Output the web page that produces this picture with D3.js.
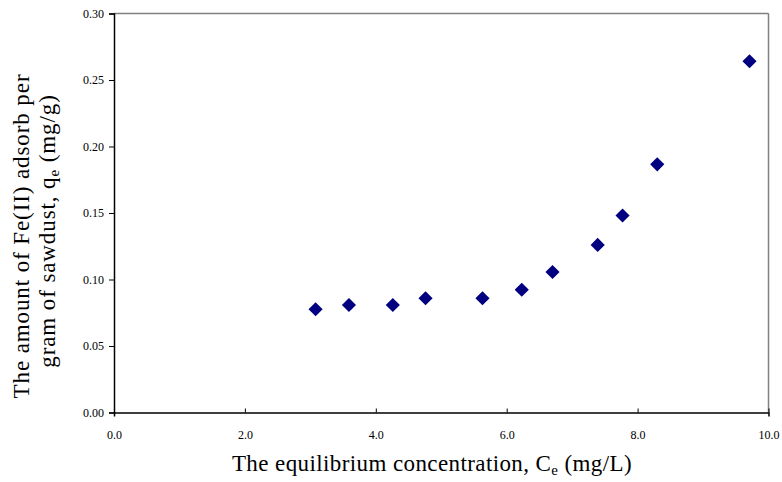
<!DOCTYPE html>
<html><head><meta charset="utf-8">
<script src="https://cdn.jsdelivr.net/npm/d3@7"></script>
<style>body{margin:0;background:#fff}svg{display:block}text{font-family:"Liberation Serif","Times New Roman",serif}</style>
</head><body>
<script>
const ceValues = [3.08, 3.59, 4.26, 4.76, 5.63, 6.23, 6.70, 7.39, 7.77, 8.30, 9.71];
const qeValues = [0.0776, 0.0808, 0.0808, 0.0859, 0.0859, 0.0923, 0.1056, 0.126, 0.1481, 0.1866, 0.2641];
const xTicks = [0, 2, 4, 6, 8, 10];
const yTicks = [0, 0.05, 0.10, 0.15, 0.20, 0.25, 0.30];

const W = 782, H = 482;
const m = {left:114, top:13.5, right:782-768.5, bottom:482-412.5};
const svg = d3.select("body").append("svg").attr("width", W).attr("height", H);
const x = d3.scaleLinear().domain([0,10]).range([m.left, W-m.right]);
const y = d3.scaleLinear().domain([0,0.30]).range([H-m.bottom, m.top]);

svg.append("line").attr("x1",x(0)).attr("x2",x(10)).attr("y1",y(0.30)).attr("y2",y(0.30)).attr("stroke","#808080").attr("stroke-width",1.5);
svg.append("line").attr("x1",x(10)).attr("x2",x(10)).attr("y1",y(0.30)).attr("y2",y(0)).attr("stroke","#808080").attr("stroke-width",1.5);

const xAxis = svg.append("g").attr("transform",`translate(0,${y(0)})`)
  .call(d3.axisBottom(x).tickValues(xTicks).tickFormat(d3.format(".1f")).tickSize(4).tickPadding(14));
const yAxis = svg.append("g").attr("transform",`translate(${x(0)},0)`)
  .call(d3.axisLeft(y).tickValues(yTicks).tickFormat(d3.format(".2f")).tickSize(5).tickPadding(5));
[xAxis,yAxis].forEach(g=>{
  g.select(".domain").attr("stroke","#000").attr("stroke-width",1.5);
  g.selectAll(".tick line").attr("stroke","#000");
  g.selectAll(".tick text").attr("fill","#000")
    .style("font-family","'Liberation Serif', serif").style("font-size","12px");
});
xAxis.selectAll(".tick line").attr("y1",-4).attr("y2",0);

svg.append("g").selectAll("path").data(ceValues).join("path")
  .attr("d", d3.symbol().type(d3.symbolSquare).size(100))
  .attr("transform",(d,i)=>`translate(${x(d)},${y(qeValues[i])}) rotate(45)`)
  .attr("fill","#000080");

const xt = svg.append("text").attr("x",432).attr("y",470.5).attr("text-anchor","middle").attr("font-size",23).attr("letter-spacing",0.4).attr("fill","#000");
xt.append("tspan").text("The equilibrium concentration, C");
xt.append("tspan").attr("font-size",15).attr("dy",4).text("e");
xt.append("tspan").attr("dy",-4).text(" (mg/L)");

svg.append("text").attr("transform","translate(29,236) rotate(-90)").attr("text-anchor","middle").attr("font-size",23).attr("letter-spacing",0.9).attr("fill","#000")
  .text("The amount of Fe(II) adsorb per");
const yt2 = svg.append("text").attr("transform","translate(55,231) rotate(-90)").attr("text-anchor","middle").attr("font-size",23).attr("letter-spacing",0.9).attr("fill","#000");
yt2.append("tspan").text("gram of sawdust, q");
yt2.append("tspan").attr("font-size",15).attr("dy",4).text("e");
yt2.append("tspan").attr("dy",-4).text(" (mg/g)");
</script>
</body></html>
